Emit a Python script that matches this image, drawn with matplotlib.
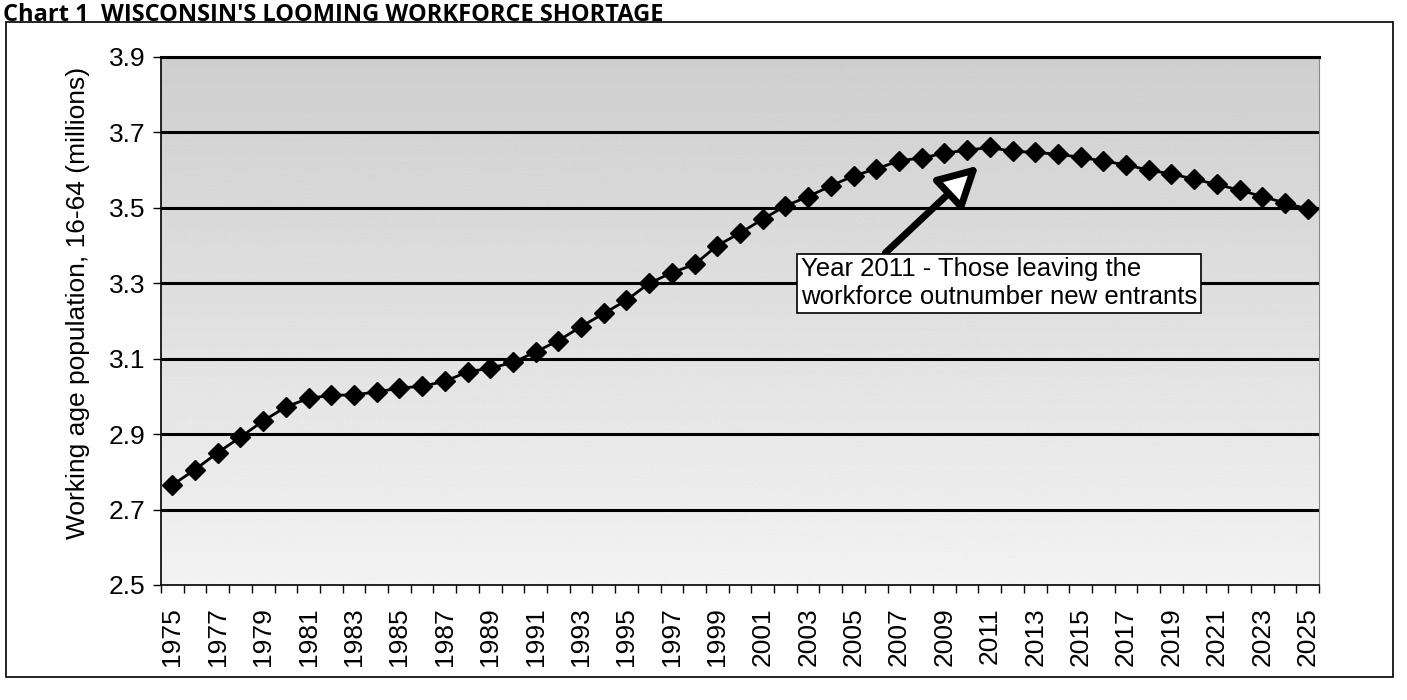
import numpy as np
import matplotlib
matplotlib.use("Agg")
import matplotlib.pyplot as plt
from matplotlib.patches import Rectangle
from matplotlib import font_manager

# working age population (16-64), millions
years = list(range(1975, 2026))
population = [
    2.765, 2.806, 2.851, 2.892, 2.935, 2.972, 2.995, 3.003, 3.004, 3.012,
    3.022, 3.027, 3.040, 3.065, 3.075, 3.090, 3.118, 3.148, 3.185, 3.220,
    3.255, 3.300, 3.328, 3.350, 3.400, 3.433, 3.470, 3.505, 3.530, 3.558,
    3.585, 3.603, 3.625, 3.632, 3.645, 3.653, 3.660, 3.650, 3.647, 3.642,
    3.634, 3.624, 3.614, 3.600, 3.590, 3.576, 3.562, 3.547, 3.530, 3.513,
    3.497,
]
y_ticks = [2.5, 2.7, 2.9, 3.1, 3.3, 3.5, 3.7, 3.9]
label_years = years[::2]

title = "Chart 1  WISCONSIN'S LOOMING WORKFORCE SHORTAGE"
y_label = "Working age population, 16-64 (millions)"
note = "Year 2011 - Those leaving the\nworkforce outnumber new entrants"

plt.rcParams["font.family"] = ["Liberation Sans", "DejaVu Sans"]

# narrow bold face for the title if there is one
installed = {f.name for f in font_manager.fontManager.ttflist}
title_font = "Liberation Sans Narrow" if "Liberation Sans Narrow" in installed else "Open Sans"

fig = plt.figure(figsize=(14.07, 7.0), dpi=100)
fig.patch.set_facecolor("white")

# outer frame around the whole chart
fig.patches.append(Rectangle((0.004, 0.033), 0.986, 0.935, transform=fig.transFigure,
                             fill=False, ec="black", lw=1.2))
t = fig.text(0.002, 1 - 21 / 700, title, fontsize=20, fontweight="bold",
             family=title_font, va="baseline", ha="left")
if title_font == "Open Sans":
    t.set_fontsize(17)

ax = fig.add_axes([0.1144, 0.1643, 0.8231, 0.7543])
x_lo, x_hi = years[0] - 0.5, years[-1] + 0.5
ax.set_xlim(x_lo, x_hi)
ax.set_ylim(y_ticks[0], y_ticks[-1])

# stippled grey background, darker at the top
grad = np.linspace(0.95, 0.81, 200).reshape(-1, 1)
ax.imshow(grad, cmap="gray", vmin=0, vmax=1, aspect="auto", origin="lower",
          extent=(x_lo, x_hi, y_ticks[0], y_ticks[-1]), zorder=0)

for v in y_ticks[1:]:
    ax.axhline(v, color="black", lw=2.2, zorder=1)

ax.plot(years, population, color="black", lw=2, marker="D", markersize=10,
        zorder=3, clip_on=False)

ax.set_yticks(y_ticks)
ax.set_yticklabels([f"{v:.1f}" for v in y_ticks], fontsize=19)
ax.tick_params(axis="y", length=6, width=1, pad=5, direction="out")

ax.set_xticks(label_years)
ax.set_xticklabels([str(y) for y in label_years], rotation=90, fontsize=19)
ax.set_xticks(np.arange(x_lo, x_hi + 0.1, 1.0), minor=True)
ax.tick_params(axis="x", which="major", length=0, pad=16)
ax.tick_params(axis="x", which="minor", length=6, width=1, direction="out")

ax.set_ylabel(y_label, fontsize=19)
ax.yaxis.set_label_coords(-0.061, 0.534)

for s in ["left", "bottom"]:
    ax.spines[s].set_color("black")
    ax.spines[s].set_linewidth(1.2)
ax.spines["top"].set_linewidth(2.2)
ax.spines["right"].set_color("#888888")
ax.spines["right"].set_linewidth(0.8)

ax.annotate(note, xy=(2010.5, 3.612), xytext=(2002.7, 3.30),
            fontsize=18.5, va="center", ha="left", zorder=5,
            bbox=dict(boxstyle="square,pad=0.15", fc="white", ec="black", lw=1.2),
            arrowprops=dict(arrowstyle="-|>,head_length=1.3,head_width=0.7",
                            lw=5, fc="white", ec="black", relpos=(0.2, 1.0),
                            shrinkA=0, shrinkB=0))

fig.savefig("out.png", dpi=100)
